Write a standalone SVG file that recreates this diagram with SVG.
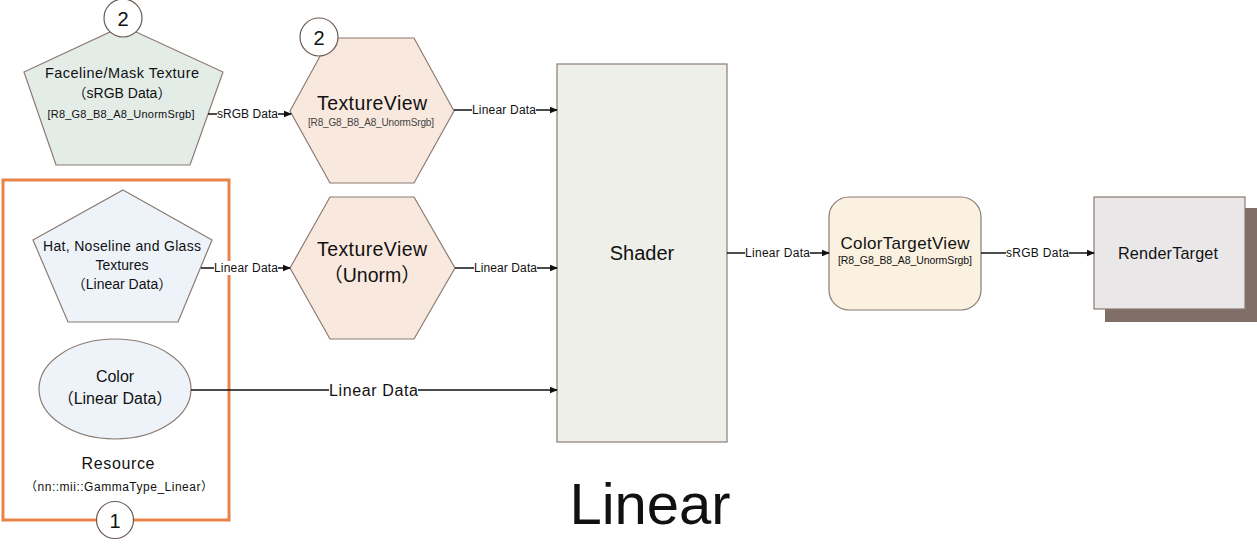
<svg xmlns="http://www.w3.org/2000/svg" width="1257" height="545" viewBox="0 0 1257 545">
<style>
text{font-family:"Liberation Sans","Noto Sans CJK JP",sans-serif;fill:#111;text-anchor:middle}
.shape{stroke:#8b7b73;stroke-width:1.2}
.conn line{stroke:#111;stroke-width:1.6}
.conn rect{fill:#fff}
.lbl{font-size:12px}
.lbl-big{font-size:16px}
.sub{font-size:10px;fill:#444}
.badge{fill:#fff;stroke:#6b5b53;stroke-width:1.2}
</style>
<defs>
<marker id="arr" markerWidth="8" markerHeight="8" refX="7" refY="4" orient="auto" markerUnits="userSpaceOnUse">
<path d="M0,0.8 L8,4 L0,7.2 Z" fill="#111"/>
</marker>
</defs>
<rect width="1257" height="545" fill="#fff"/>

<g id="resource-frame">
<rect x="3" y="180" width="226" height="340" fill="none" stroke="#e8834a" stroke-width="3"/>
<text x="118" y="469" font-size="16" textLength="73">Resource</text>
<text x="119" y="491" font-size="12" textLength="188">（nn::mii::GammaType_Linear）</text>
</g>

<g id="shader">
<rect class="shape" x="557" y="64" width="170" height="378" fill="#efefe9"/>
<text x="642" y="260" font-size="20">Shader</text>
</g>

<g id="faceline">
<polygon class="shape" points="123,26 223,72 190,165 56,165 24,72" fill="#e4ece8"/>
<text x="122" y="78" font-size="14.5" textLength="154">Faceline/Mask Texture</text>
<text x="122" y="98" font-size="14">（sRGB Data）</text>
<text x="121" y="118" font-size="11" textLength="147">[R8_G8_B8_A8_UnormSrgb]</text>
</g>

<g id="badge2a">
<circle class="badge" cx="123" cy="18" r="19"/>
<text x="123" y="26" font-size="20">2</text>
</g>

<g id="hat">
<polygon class="shape" points="123,190 212,240 178,322 68,322 33,240" fill="#eef3fa"/>
<text x="122" y="251" font-size="14" textLength="158">Hat, Noseline and Glass</text>
<text x="122" y="270" font-size="14">Textures</text>
<text x="122" y="289" font-size="14">（Linear Data）</text>
</g>

<g id="color">
<ellipse class="shape" cx="115" cy="389" rx="76" ry="50" fill="#eef3fa"/>
<text x="115" y="382" font-size="16">Color</text>
<text x="115" y="404" font-size="16">（Linear Data）</text>
</g>

<g id="textureview-srgb">
<polygon class="shape" points="290,111 330,38 414,38 454,111 414,183 330,183" fill="#f9e8dd"/>
<text x="372" y="110" font-size="19.5" textLength="110">TextureView</text>
<text x="371" y="126" class="sub" textLength="126">[R8_G8_B8_A8_UnormSrgb]</text>
</g>

<g id="badge2b">
<circle class="badge" cx="319" cy="37" r="19"/>
<text x="319" y="45" font-size="20">2</text>
</g>

<g id="textureview-unorm">
<polygon class="shape" points="290,268 330,197 414,197 455,268 414,339 330,339" fill="#f9e8dd"/>
<text x="372" y="256" font-size="19.5" textLength="110">TextureView</text>
<text x="372" y="282" font-size="19.5">（Unorm）</text>
</g>

<g id="colortargetview">
<rect class="shape" x="829" y="197" width="152" height="113" rx="20" fill="#faf1e1"/>
<text x="905" y="249" font-size="17" textLength="129">ColorTargetView</text>
<text x="905" y="264" font-size="10.5" textLength="134">[R8_G8_B8_A8_UnormSrgb]</text>
</g>

<g id="rendertarget">
<rect x="1105" y="208" width="152" height="114" fill="#7f6f67"/>
<rect class="shape" x="1094" y="197" width="151" height="112" fill="#eae7e9"/>
<text x="1168" y="259" font-size="16.2" textLength="100">RenderTarget</text>
</g>

<g id="badge1">
<circle class="badge" cx="115" cy="520" r="18.5"/>
<text x="115" y="528" font-size="20">1</text>
</g>

<g id="connectors" class="conn">
<line x1="208" y1="114" x2="291" y2="114" marker-end="url(#arr)"/>
<rect x="217" y="107" width="61" height="14"/>
<text class="lbl" x="247.5" y="118" textLength="61">sRGB Data</text>
<line x1="454" y1="110" x2="557" y2="110" marker-end="url(#arr)"/>
<rect x="472" y="103" width="64" height="14"/>
<text class="lbl" x="504" y="114" textLength="64">Linear Data</text>
<line x1="201" y1="268" x2="290" y2="268" marker-end="url(#arr)"/>
<rect x="214" y="261" width="64" height="14"/>
<text class="lbl" x="246" y="272" textLength="64">Linear Data</text>
<line x1="455" y1="268" x2="557" y2="268" marker-end="url(#arr)"/>
<rect x="474" y="261" width="63" height="14"/>
<text class="lbl" x="505.5" y="272" textLength="63">Linear Data</text>
<line x1="191" y1="390" x2="557" y2="390" marker-end="url(#arr)"/>
<rect x="329" y="380" width="89" height="19"/>
<text class="lbl-big" x="373.5" y="396" textLength="89">Linear Data</text>
<line x1="727" y1="253" x2="829" y2="253" marker-end="url(#arr)"/>
<rect x="745" y="246" width="65" height="14"/>
<text class="lbl" x="777.5" y="257" textLength="65">Linear Data</text>
<line x1="981" y1="253" x2="1094" y2="253" marker-end="url(#arr)"/>
<rect x="1006" y="246" width="63" height="14"/>
<text class="lbl" x="1037.5" y="257" textLength="63">sRGB Data</text>
</g>

<text x="650" y="524" font-size="58">Linear</text>
</svg>
